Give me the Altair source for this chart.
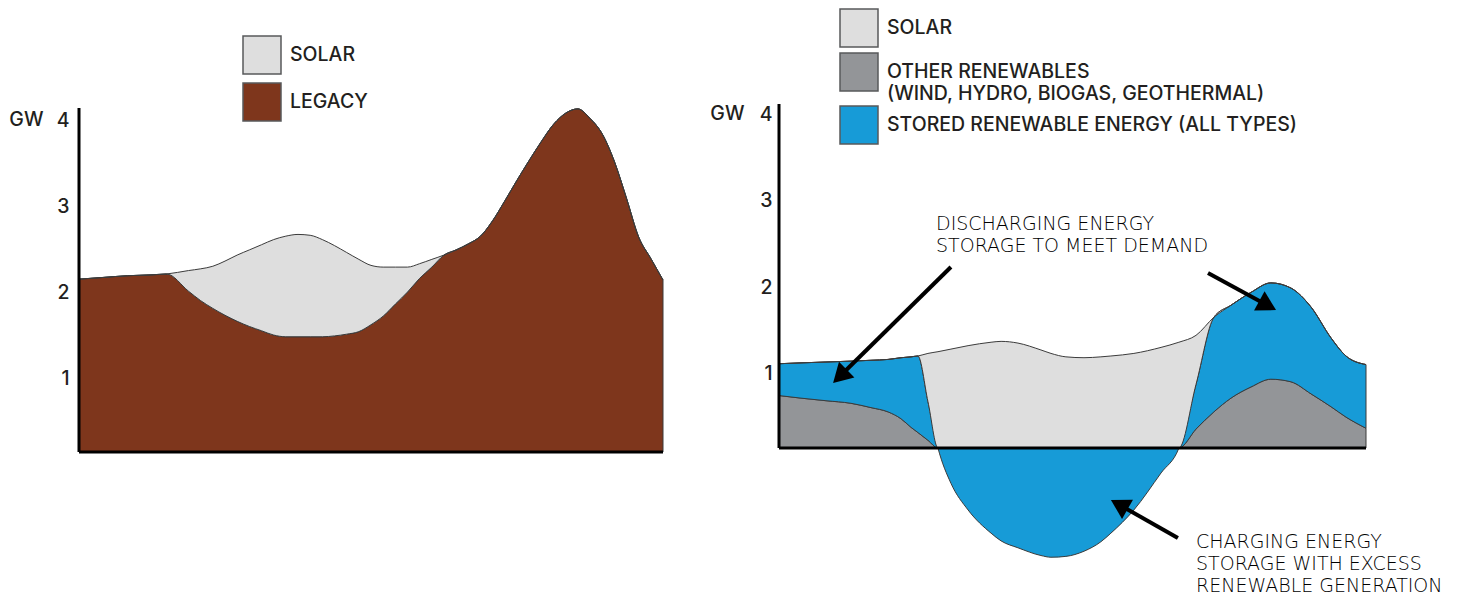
import altair as alt
import pandas as pd

FONT = "Inter"
NOTE_FONT = "DejaVu Sans"
INK = "#231F20"

# ---------------- left panel: today's grid ----------------
left_hours = [0, 1, 2, 3, 3.6, 4.5, 5, 5.5, 6, 6.5, 7, 7.5, 8, 8.5, 9, 9.5, 10, 10.5,
              11, 11.5, 12, 12.5, 13, 13.5, 14, 14.5, 15, 15.5, 16, 16.5, 17, 17.5,
              18, 18.5, 19, 19.5, 20, 20.5, 21, 21.5, 22, 22.5, 23, 23.5, 24]
left_legacy = [2.01, 2.03, 2.05, 2.06, 2.07, 1.87, 1.76, 1.67, 1.59, 1.52, 1.46, 1.41,
               1.36, 1.34, 1.34, 1.34, 1.34, 1.35, 1.37, 1.40, 1.48, 1.58, 1.72, 1.86,
               2.02, 2.15, 2.29, 2.35, 2.42, 2.51, 2.69, 2.92, 3.16, 3.39, 3.61, 3.81,
               3.94, 3.99, 3.88, 3.70, 3.38, 2.95, 2.50, 2.25, 2.00]
left_solar = [0, 0, 0, 0, 0, 0.24, 0.37, 0.49, 0.63, 0.77, 0.89, 1.00, 1.11, 1.17,
              1.19, 1.18, 1.13, 1.05, 0.95, 0.84, 0.69, 0.57, 0.43, 0.29, 0.17, 0.09,
              0, 0, 0, 0, 0, 0, 0, 0, 0, 0, 0, 0, 0, 0, 0, 0, 0, 0, 0]

# ---------------- right panel: grid with storage ----------------
right_hours = [0, 0.90, 1.92, 2.94, 3.76, 4.46, 4.99, 5.40, 5.68, 6.09, 6.50, 7.03,
               7.73, 8.67, 9.08, 9.77, 10.71, 11.12, 11.73, 12.47, 13.16, 13.57, 14.51,
               15.62, 16.35, 17.05, 17.78, 18.48, 19.30, 20.11, 20.93, 21.75, 22.57,
               23.18, 24.0]
right_other = [0.61, 0.58, 0.55, 0.52, 0.47, 0.42, 0.34, 0.24, 0.18, 0.09, 0, 0,
               0, 0, 0, 0, 0, 0, 0, 0, 0, 0, 0,
               0, 0, 0.22, 0.42, 0.58, 0.71, 0.80, 0.77, 0.63, 0.48, 0.36, 0.23]
right_stored = [0.37, 0.41, 0.45, 0.49, 0.55, 0.61, 0.71, 0.82, 0.89, 0.45, 0, -0.41,
                -0.72, -0.99, -1.08, -1.16, -1.25, -1.27, -1.26, -1.20, -1.09, -0.99,
                -0.72, -0.29, 0, 0.52, 1.10, 1.08, 1.10, 1.12, 1.09, 1.01, 0.80, 0.71,
                0.74]
right_solar = [0, 0, 0, 0, 0, 0, 0, 0, 0, 0.56, 1.12, 1.15, 1.19, 1.23, 1.24, 1.22,
               1.14, 1.10, 1.06, 1.05, 1.06, 1.07, 1.10, 1.17, 1.23, 0.57, 0, 0, 0, 0,
               0, 0, 0, 0, 0]

LEFT_SERIES = ["SOLAR", "LEGACY"]
LEFT_COLORS = ["#DEDEDE", "#7E361C"]
RIGHT_SERIES = ["SOLAR", "OTHER RENEWABLES|(WIND, HYDRO, BIOGAS, GEOTHERMAL)",
                "STORED RENEWABLE ENERGY (ALL TYPES)"]
RIGHT_COLORS = ["#DEDEDE", "#939598", "#179BD7"]

y_ticks = [1, 2, 3, 4]

note_text = ["DISCHARGING ENERGY\nSTORAGE TO MEET DEMAND",
             "CHARGING ENERGY\nSTORAGE WITH EXCESS\nRENEWABLE GENERATION"]
note_x = [6.42, 17.05]
note_y = [2.535, -1.163]

arrow_x0 = [7.03, 17.54, 16.31]
arrow_y0 = [2.105, 2.035, -1.047]
arrow_x1 = [2.49, 19.98, 13.91]
arrow_y1 = [0.834, 1.657, -0.659]
arrow_angle = [225.5, 118.6, 299.6]

# axis lines (data extents)
axis_x = [0, 0]
axis_y = [0, 0]
axis_x2 = [0, 24]
axis_y2 = [4, 0]

# ---------------- tables ----------------
rows = []
for i, h in enumerate(left_hours):
    rows.append({"h": h, "series": "LEGACY", "gw": left_legacy[i], "ord": 0})
    rows.append({"h": h, "series": "SOLAR", "gw": left_solar[i], "ord": 1})
left_df = pd.DataFrame(rows)

rows = []
for i, h in enumerate(right_hours):
    rows.append({"h": h, "series": RIGHT_SERIES[1], "gw": right_other[i], "ord": 0})
    rows.append({"h": h, "series": RIGHT_SERIES[2], "gw": right_stored[i], "ord": 1})
    rows.append({"h": h, "series": RIGHT_SERIES[0], "gw": right_solar[i], "ord": 2})
right_df = pd.DataFrame(rows)

axis_df = pd.DataFrame({"x": axis_x, "y": axis_y, "x2": axis_x2, "y2": axis_y2})
note_df = pd.DataFrame({"x": note_x, "y": note_y, "t": note_text})
arrow_df = pd.DataFrame({"x": arrow_x0, "y": arrow_y0, "x2": arrow_x1, "y2": arrow_y1,
                         "ang": arrow_angle})


def y_axis(title_y, label_offset, label_padding, title_x):
    return alt.Axis(values=y_ticks, domain=False, ticks=False, grid=False,
                    labelFont=FONT, labelFontSize=19.5, labelFontWeight=500,
                    labelColor=INK,
                    labelPadding=label_padding, labelOffset=label_offset,
                    title="GW", titleAngle=0, titleAlign="right", titleBaseline="middle",
                    titleX=title_x, titleY=title_y, titleFont=FONT, titleFontSize=19.5,
                    titleFontWeight=500, titleColor=INK)


def legend(lx, ly, row_pad):
    return alt.Legend(title=None, orient="none", legendX=lx, legendY=ly,
                      symbolType="square", symbolSize=1444,
                      symbolStrokeColor="#58595B", symbolStrokeWidth=1.5,
                      labelFont=FONT, labelFontSize=19.5, labelFontWeight=500,
                      labelColor=INK,
                      labelOffset=8, rowPadding=row_pad, padding=0, labelLimit=600,
                      labelExpr="split(datum.label, '|')")


xs = alt.Scale(domain=[0, 24], nice=False, zero=False)
ys_left = alt.Scale(domain=[0, 5.163], nice=False, zero=False)
ys_right = alt.Scale(domain=[-1.302, 5.116], nice=False, zero=False)

ax_left = y_axis(111.5, 12, 10, -36)
ax_right = y_axis(105, 11, 7, -35)

# ---------------- left chart ----------------
left_area = alt.Chart(left_df).mark_area(
    interpolate="monotone", stroke="#3b3b3b", strokeWidth=1
).encode(
    x=alt.X("h:Q", scale=xs, axis=None),
    y=alt.Y("gw:Q", stack="zero", scale=ys_left, axis=ax_left),
    fill=alt.Fill("series:N", scale=alt.Scale(domain=LEFT_SERIES, range=LEFT_COLORS),
                  legend=legend(163, 27, 3)),
    order=alt.Order("ord:Q"),
)
left_axes = alt.Chart(axis_df).mark_rule(color="black", strokeWidth=3).encode(
    x=alt.X("x:Q", scale=xs, axis=None),
    y=alt.Y("y:Q", scale=ys_left, axis=ax_left),
    x2="x2:Q",
    y2="y2:Q",
)
left = alt.layer(left_area, left_axes).properties(width=584, height=444)

# ---------------- right chart ----------------
right_area = alt.Chart(right_df).mark_area(
    interpolate="monotone", stroke="#3b3b3b", strokeWidth=1
).encode(
    x=alt.X("h:Q", scale=xs, axis=None),
    y=alt.Y("gw:Q", stack="zero", scale=ys_right, axis=ax_right),
    fill=alt.Fill("series:N", scale=alt.Scale(domain=RIGHT_SERIES, range=RIGHT_COLORS),
                  legend=legend(60, 0, 0)),
    order=alt.Order("ord:Q"),
)
right_axes = alt.Chart(axis_df).mark_rule(color="black", strokeWidth=3).encode(
    x=alt.X("x:Q", scale=xs, axis=None),
    y=alt.Y("y:Q", scale=ys_right, axis=ax_right),
    x2="x2:Q",
    y2="y2:Q",
)
arrow_shaft = alt.Chart(arrow_df).mark_rule(color="black", strokeWidth=4).encode(
    x=alt.X("x:Q", scale=xs, axis=None),
    y=alt.Y("y:Q", scale=ys_right, axis=ax_right),
    x2="x2:Q",
    y2="y2:Q",
)
arrow_head = alt.Chart(arrow_df).mark_point(
    shape="triangle-up", filled=True, size=484, color="black", opacity=1
).encode(
    x=alt.X("x2:Q", scale=xs, axis=None),
    y=alt.Y("y2:Q", scale=ys_right, axis=ax_right),
    angle=alt.Angle("ang:Q", scale=None),
)
notes = alt.Chart(note_df).mark_text(
    align="left", baseline="alphabetic", font=NOTE_FONT, fontSize=19, fontWeight=200,
    lineHeight=22, lineBreak="\n", color="#000000"
).encode(
    x=alt.X("x:Q", scale=xs, axis=None),
    y=alt.Y("y:Q", scale=ys_right, axis=ax_right),
    text="t:N",
)
right = alt.layer(right_area, right_axes, arrow_shaft, arrow_head, notes).properties(
    width=587, height=552)

chart = alt.hconcat(left, right, spacing=116, bounds="flush").resolve_scale(
    fill="independent", x="independent", y="independent"
).resolve_legend(fill="independent").properties(
    padding={"left": 0, "top": 0, "right": 0, "bottom": 0}
).configure_view(strokeWidth=0)

chart.save("out.html", embed_options={"renderer": "svg", "actions": False})
